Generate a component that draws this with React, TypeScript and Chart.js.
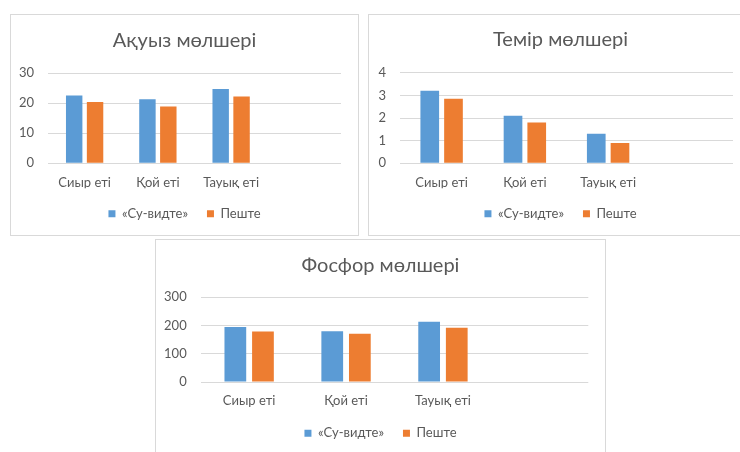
import React, { useEffect, useRef } from "react";
import { Chart, registerables } from "chart.js";

Chart.register(...registerables);

const categories = ["Сиыр еті", "Қой еті", "Тауық еті", ""];
const seriesNames = ["«Су-видте»", "Пеште"];

const proteinTitle = "Ақуыз мөлшері";
const proteinSousVide = [22.5, 21.3, 24.7];
const proteinOven = [20.4, 18.9, 22.2];

const ironTitle = "Темір мөлшері";
const ironSousVide = [3.2, 2.1, 1.3];
const ironOven = [2.85, 1.8, 0.9];

const phosphorusTitle = "Фосфор мөлшері";
const phosphorusSousVide = [195, 180, 213];
const phosphorusOven = [179, 171, 192];

const proteinTicks = { max: 30, step: 10 };
const ironTicks = { max: 4, step: 1 };
const phosphorusTicks = { max: 300, step: 100 };

const FONT = "Lato, 'Open Sans', 'Noto Sans', sans-serif";
const TEXT = "#595959";
const GRID = "#d9d9d9";
const BLUE = "#5B9BD5";
const ORANGE = "#ED7D31";

type Spec = {
  title: string;
  a: number[];
  b: number[];
  max: number;
  step: number;
  left: number;
  top: number;
  width: number;
  height: number;
  plotLeft: number;
  plotRight: number;
  plotTop: number;
  plotBottom: number;
  titleY: number;
  labelY: number;
  legendY: number;
};

const TITLE_SIZE = 20;
const TICK_SIZE = 13;
const LEGEND_SIZE = 13;
const LEGEND_PAD = 19;

function ChartBox({ spec }: { spec: Spec }) {
  const ref = useRef<HTMLCanvasElement | null>(null);
  useEffect(() => {
    if (!ref.current) return;
    const s = spec;
    const side = s.width - s.plotRight;
    const titleLH = TITLE_SIZE * 1.2;
    const legendTop = s.legendY - LEGEND_PAD - LEGEND_SIZE / 2;
    const legendH = LEGEND_SIZE + LEGEND_PAD + 10;
    const padBottom = s.height - legendTop - legendH;
    const chart = new Chart(ref.current, {
      type: "bar",
      data: {
        labels: categories,
        datasets: [
          { label: seriesNames[0], data: s.a, backgroundColor: BLUE, borderWidth: 0 },
          { label: seriesNames[1], data: s.b, backgroundColor: ORANGE, borderWidth: 0 },
        ],
      },
      options: {
        animation: false,
        responsive: false,
        devicePixelRatio: 1,
        datasets: { bar: { categoryPercentage: 0.57, barPercentage: 0.787 } },
        layout: { padding: { left: 0, right: 0, top: 0, bottom: padBottom } },
        plugins: {
          tooltip: { enabled: false },
          title: {
            display: true,
            text: s.title,
            color: TEXT,
            font: { family: FONT, size: TITLE_SIZE, weight: "normal" as any, lineHeight: 1.2 },
            padding: { top: s.titleY - titleLH / 2, bottom: s.plotTop - s.titleY - titleLH / 2 },
          },
          legend: {
            display: true,
            position: "bottom",
            labels: {
              color: TEXT,
              font: { family: FONT, size: LEGEND_SIZE },
              boxWidth: 7,
              boxHeight: 7,
              padding: LEGEND_PAD,
            },
          },
        },
        scales: {
          x: {
            grid: { display: false, drawTicks: false },
            border: { display: false },
            ticks: {
              color: TEXT,
              font: { family: FONT, size: TICK_SIZE, lineHeight: 1.2 },
              padding: s.labelY - s.plotBottom - (TICK_SIZE * 1.2) / 2,
              maxRotation: 0,
              autoSkip: false,
            },
            afterFit: (scale: any) => {
              scale.height = legendTop - s.plotBottom;
            },
          },
          y: {
            min: 0,
            max: s.max,
            grid: { color: GRID, lineWidth: 1, drawTicks: false },
            border: { display: false },
            ticks: {
              stepSize: s.step,
              color: TEXT,
              font: { family: FONT, size: TICK_SIZE },
              padding: 14,
            },
            afterFit: (scale: any) => {
              scale.width = s.plotLeft;
            },
          },
          ySpacer: {
            position: "right",
            display: true,
            grid: { display: false, drawTicks: false },
            border: { display: false },
            ticks: { display: false },
            afterFit: (scale: any) => {
              scale.width = side;
            },
          },
        },
      },
    });
    return () => chart.destroy();
  }, [spec]);
  return (
    <div
      style={{
        position: "absolute",
        left: spec.left,
        top: spec.top,
        width: spec.width,
        height: spec.height,
        border: "1px solid #d9d9d9",
        background: "#fff",
      }}
    >
      <canvas
        ref={ref}
        width={spec.width}
        height={spec.height}
        style={{ display: "block", width: spec.width, height: spec.height }}
      />
    </div>
  );
}

const specs: Spec[] = [
  {
    title: proteinTitle, a: proteinSousVide, b: proteinOven, ...proteinTicks,
    left: 10, top: 14, width: 347, height: 220,
    plotLeft: 37, plotRight: 330, plotTop: 58, plotBottom: 148.3,
    titleY: 26, labelY: 167.5, legendY: 198.7,
  },
  {
    title: ironTitle, a: ironSousVide, b: ironOven, ...ironTicks,
    left: 368, top: 14, width: 383, height: 220,
    plotLeft: 31, plotRight: 364, plotTop: 57.7, plotBottom: 148.3,
    titleY: 24.5, labelY: 167.5, legendY: 198.7,
  },
  {
    title: phosphorusTitle, a: phosphorusSousVide, b: phosphorusOven, ...phosphorusTicks,
    left: 155, top: 239, width: 449, height: 214,
    plotLeft: 44.7, plotRight: 432.3, plotTop: 57.3, plotBottom: 142,
    titleY: 25.3, labelY: 160.8, legendY: 193.2,
  },
];

export default function App() {
  return (
    <div
      style={{
        position: "absolute",
        left: 0,
        top: 0,
        width: 740,
        height: 452,
        overflow: "hidden",
        background: "#fff",
      }}
    >
      {specs.map((s, i) => (
        <ChartBox key={i} spec={s} />
      ))}
    </div>
  );
}
